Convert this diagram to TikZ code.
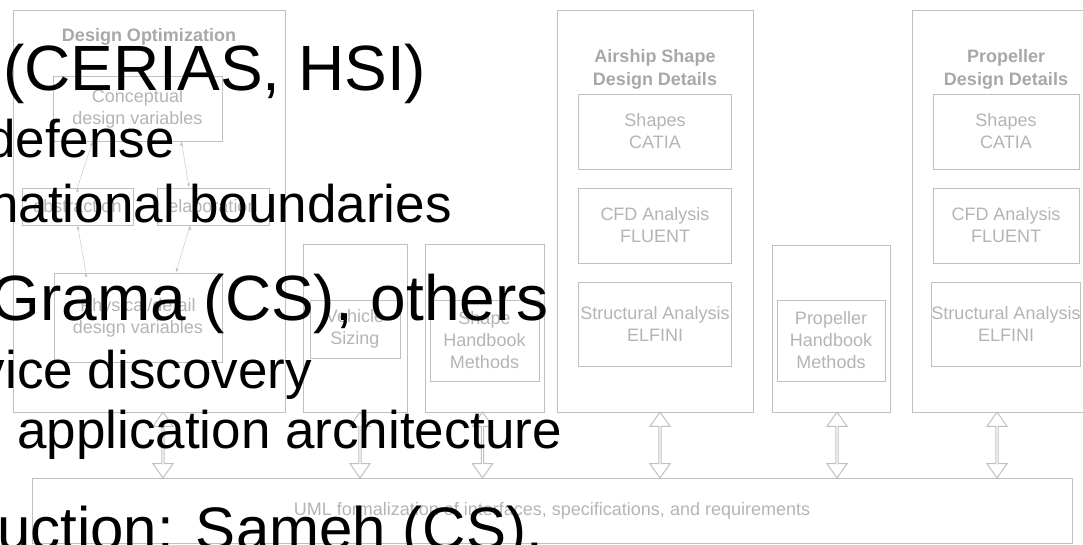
\documentclass[tikz,border=0pt]{standalone}
\usepackage{fontspec}
\setmainfont{Liberation Sans}
\usetikzlibrary{shapes.arrows}
\definecolor{boxgray}{RGB}{192,192,192}
\definecolor{txtgray}{RGB}{180,180,180}
\definecolor{ttlgray}{RGB}{168,168,168}

\begin{document}
\begin{tikzpicture}[x=1pt, y=-1pt,
	box/.style={rectangle, draw=boxgray, line width=1pt, inner sep=0pt, align=center, text=txtgray, font=\fontsize{18}{22}\selectfont},
	boxtitle/.style={align=center, inner sep=0pt, text=ttlgray, font=\fontsize{18}{23}\selectfont\bfseries},
	blockarrow/.style={double arrow, draw=boxgray, line width=1pt, fill=white, inner sep=0pt, minimum height=66pt, minimum width=20pt, double arrow head extend=4pt, double arrow tip angle=70},
	bulletone/.style={inner sep=0pt, font=\fontsize{64}{72}\selectfont},
	bullettwo/.style={inner sep=0pt, font=\fontsize{53}{60}\selectfont}]
				\useasboundingbox (0,0) rectangle (1083,544);
				% design optimization loop
				\node[box, minimum width=272pt, minimum height=402pt] (dopt) at (149,211) {};
				\node[boxtitle] (doptt) at (149,37) {Design Optimization};
				\node[box, minimum width=169pt, minimum height=65pt] (concept) at (137.5,108.5) {Conceptual\\design variables};
				\node[box, minimum width=111pt, minimum height=37pt] (abst) at (77.5,206.5) {abstraction};
				\node[box, minimum width=112pt, minimum height=37pt] (elab) at (213,206.5) {elaboration};
				\node[box, minimum width=168pt, minimum height=89pt] (phys) at (138,317.5) {Physical/detail\\design variables};
				\draw[->,>=latex,boxgray] ([xshift=-52pt]phys.north) edge (abst.south);
				\draw[->,>=latex,boxgray] (abst.north) edge ([xshift=-45pt]concept.south);
				\draw[->,>=latex,boxgray] ([xshift=44pt]concept.south) edge ([xshift=-24pt]elab.north);
				\draw[->,>=latex,boxgray] ([xshift=-23pt]elab.south) edge ([xshift=38pt]phys.north);
				% sizing and handbook methods
				\node[box, minimum width=104pt, minimum height=168pt] (veh) at (355,328) {};
				\node[box, minimum width=90pt, minimum height=58pt] (vehs) at (355,329) {Vehicle\\Sizing};
				\node[box, minimum width=119pt, minimum height=168pt] (shb) at (484.5,328) {};
				\node[box, minimum width=109pt, minimum height=81pt] (shbm) at (484.5,340.5) {Shape\\Handbook\\Methods};
				\node[box, minimum width=118pt, minimum height=167pt] (phb) at (831,328.5) {};
				\node[box, minimum width=108pt, minimum height=81pt] (phbm) at (831,340.5) {Propeller\\Handbook\\Methods};
				% design details
				\node[box, minimum width=196pt, minimum height=402pt] (air) at (655,211) {};
				\node[boxtitle] (airt) at (655,69) {Airship Shape\\Design Details};
				\node[box, minimum width=153pt, minimum height=75pt] (airsh) at (655,131.5) {Shapes\\CATIA};
				\node[box, minimum width=153pt, minimum height=75pt] (aircfd) at (655,225.5) {CFD Analysis\\FLUENT};
				\node[box, minimum width=153pt, minimum height=84pt] (airst) at (655,324) {Structural Analysis\\ELFINI};
				\node[box, minimum width=188pt, minimum height=402pt] (prop) at (1006,211) {};
				\node[boxtitle] (propt) at (1006,69) {Propeller\\Design Details};
				\node[box, minimum width=146pt, minimum height=75pt] (propsh) at (1006,131.5) {Shapes\\CATIA};
				\node[box, minimum width=146pt, minimum height=75pt] (propcfd) at (1006,225.5) {CFD Analysis\\FLUENT};
				\node[box, minimum width=146pt, minimum height=84pt] (propst) at (1006,324) {Structural Analysis\\ELFINI};
				% uml layer
				\node[box, minimum width=1040pt, minimum height=65pt] (uml) at (552,510.5) {UML formalization of interfaces, specifications, and requirements};
				\path ([xshift=14pt]dopt.south) -- ([xshift=14pt]dopt.south |- uml.north) node[midway, blockarrow, sloped] (a1) {};
				\path ([xshift=5pt]veh.south) -- ([xshift=5pt]veh.south |- uml.north) node[midway, blockarrow, sloped] (a2) {};
				\path ([xshift=-2pt]shb.south) -- ([xshift=-2pt]shb.south |- uml.north) node[midway, blockarrow, sloped] (a3) {};
				\path ([xshift=5pt]air.south) -- ([xshift=5pt]air.south |- uml.north) node[midway, blockarrow, sloped] (a4) {};
				\path ([xshift=6pt]phb.south) -- ([xshift=6pt]phb.south |- uml.north) node[midway, blockarrow, sloped] (a5) {};
				\path ([xshift=-9pt]prop.south) -- ([xshift=-9pt]prop.south |- uml.north) node[midway, blockarrow, sloped] (a6) {};
				% slide text on top
				\node[bulletone, anchor=base west] (cerias) at (3,90) {(CERIAS, HSI)};
				\node[bullettwo, anchor=base east] (defense) at (175,157) {defense};
				\node[bullettwo, anchor=base east] (national) at (452,222) {national boundaries};
				\node[bulletone, anchor=base east] (grama) at (549,320) {Grama (CS), others};
				\node[bullettwo, anchor=base east] (discovery) at (312,388) {vice discovery};
				\node[bullettwo, anchor=base west] (archit) at (17,448) {application architecture};
				\node[bulletone, font=\fontsize{60}{68}\selectfont, anchor=base east] (sameh) at (543,549) {uction: Sameh (CS).};
			\end{tikzpicture}
\end{document}
